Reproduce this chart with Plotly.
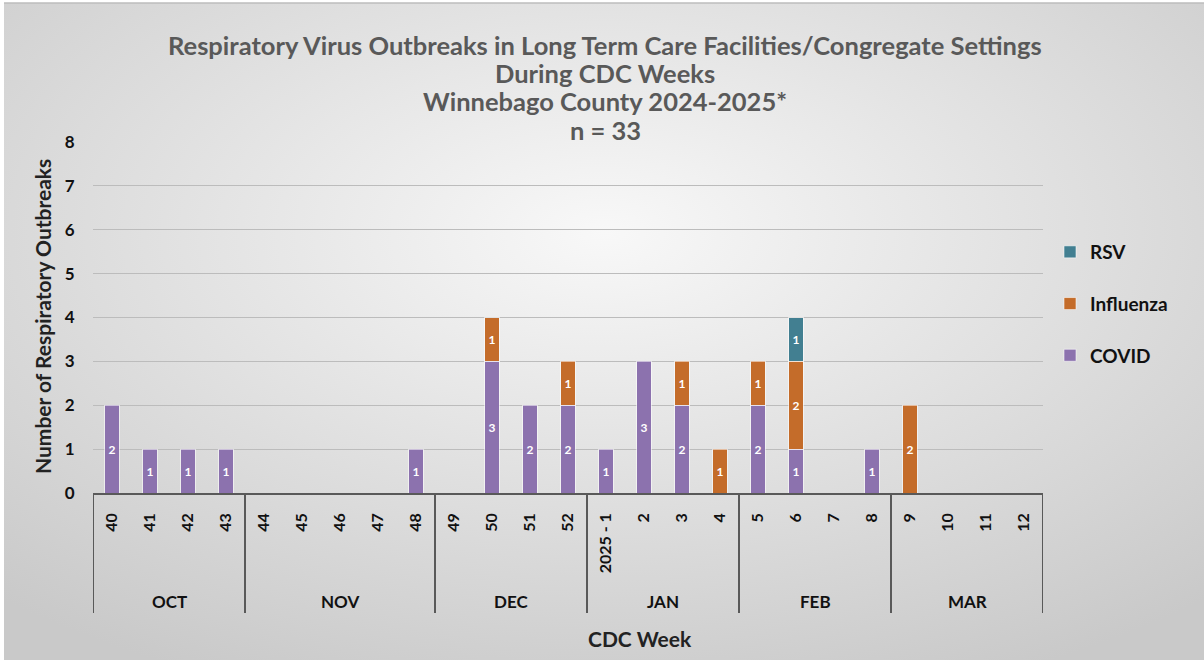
import base64
import plotly.graph_objects as go

# ---- data ----
weeks = ["40", "41", "42", "43", "44", "45", "46", "47", "48", "49", "50", "51", "52",
         "2025 - 1", "2", "3", "4", "5", "6", "7", "8", "9", "10", "11", "12"]
months = ["OCT", "NOV", "DEC", "JAN", "FEB", "MAR"]
weeks_per_month = [4, 5, 4, 4, 4, 4]
covid = [2, 1, 1, 1, 0, 0, 0, 0, 1, 0, 3, 2, 2, 1, 3, 2, 0, 2, 1, 0, 1, 0, 0, 0, 0]
influenza = [0, 0, 0, 0, 0, 0, 0, 0, 0, 0, 1, 0, 1, 0, 0, 1, 1, 1, 2, 0, 0, 2, 0, 0, 0]
rsv = [0, 0, 0, 0, 0, 0, 0, 0, 0, 0, 0, 0, 0, 0, 0, 0, 0, 0, 1, 0, 0, 0, 0, 0, 0]

series = [("COVID", covid, "#8C72AE", 3), ("Influenza", influenza, "#C46C2A", 2),
          ("RSV", rsv, "#427F91", 1)]

FONT = "Lato"
W, H = 1204, 660
L, R, T, B = 93, 161, 142, 167
PW, PH = W - L - R, H - T - B

xs = list(range(len(weeks)))
fig = go.Figure()
for name, vals, color, rank in series:
    y = [v if v else None for v in vals]
    fig.add_trace(go.Bar(
        x=xs, y=y, name=name, legendgroup=name, legendrank=rank,
        marker=dict(color=color, line=dict(color="rgba(255,255,255,0.55)", width=1)),
        width=0.38,
        text=[str(v) if v else "" for v in vals],
        textposition="inside", insidetextanchor="middle", textangle=0,
        insidetextfont=dict(family=FONT, size=12, color="white", weight="bold"),
        constraintext="none",
        hoverinfo="skip",
    ))

# background gradient (decorative)
svg = ('<svg xmlns="http://www.w3.org/2000/svg" width="1204" height="660">'
       '<defs><radialGradient id="g" cx="50%" cy="35%" r="75%">'
       '<stop offset="0%" stop-color="#f8f8f8"/><stop offset="100%" stop-color="#c9c9c9"/>'
       '</radialGradient></defs><rect x="0" y="0" width="1204" height="660" fill="url(#g)"/></svg>')
src = "data:image/svg+xml;base64," + base64.b64encode(svg.encode()).decode()
fig.add_layout_image(dict(source=src, xref="paper", yref="paper",
                          x=(4 - L) / PW, y=1 + (T - 3) / PH,
                          sizex=(W - 4) / PW, sizey=(H - 3) / PH,
                          xanchor="left", yanchor="top", sizing="stretch", layer="below"))

shapes = []
ann = []
# month separators and labels
bounds = [-0.5]
for n in weeks_per_month:
    bounds.append(bounds[-1] + n)
for b in bounds:
    shapes.append(dict(type="line", xref="x", yref="paper", x0=b, x1=b,
                       y0=0, y1=-(613 - 493) / PH, line=dict(color="#595959", width=2)))
for i, m in enumerate(months):
    ann.append(dict(text=m, xref="x", yref="paper", x=(bounds[i] + bounds[i + 1]) / 2,
                    y=-(601 - 493) / PH, showarrow=False, yanchor="middle",
                    font=dict(family=FONT, size=17, color="#111111", weight="bold")))
# top border line
shapes.append(dict(type="line", xref="paper", yref="paper", x0=(4 - L) / PW, x1=(W - L) / PW,
                   y0=1 + (T - 3) / PH, y1=1 + (T - 3) / PH, line=dict(color="#bdbdbd", width=1.5)))

titles = ["Respiratory Virus Outbreaks in Long Term Care Facilities/Congregate Settings",
          "During CDC Weeks", "Winnebago County 2024-2025*", "n = 33"]
ty = [45, 73, 101, 130]
for t, yy in zip(titles, ty):
    ann.append(dict(text=t, xref="paper", yref="paper", x=(605 - L) / PW, y=(493 - yy) / PH,
                    showarrow=False, xanchor="center", yanchor="middle",
                    font=dict(family=FONT, size=25.5, color="#595959", weight="bold")))
ann.append(dict(text="Number of Respiratory Outbreaks", xref="paper", yref="paper",
                x=(42 - L) / PW, y=(493 - 317) / PH, textangle=-90, showarrow=False,
                xanchor="center", yanchor="middle",
                font=dict(family=FONT, size=21, color="#222222", weight="bold")))
ann.append(dict(text="CDC Week", xref="paper", yref="paper", x=(640 - L) / PW, y=-(638 - 493) / PH,
                showarrow=False, xanchor="center", yanchor="middle",
                font=dict(family=FONT, size=21, color="#222222", weight="bold")))

fig.update_layout(
    width=W, height=H,
    margin=dict(l=L, r=R, t=T, b=B, autoexpand=False),
    paper_bgcolor="white", plot_bgcolor="rgba(0,0,0,0)",
    barmode="stack", bargap=0.62,
    showlegend=True,
    legend=dict(x=(1050 - L) / PW, y=(493 - 233) / PH, xanchor="left", yanchor="top",
                traceorder="grouped", tracegroupgap=24, itemwidth=30,
                bgcolor="rgba(0,0,0,0)",
                font=dict(family=FONT, size=19, color="#111111", weight="bold")),
    shapes=shapes, annotations=ann,
    xaxis=dict(range=[-0.5, len(weeks) - 0.5], tickmode="array", tickvals=xs, ticktext=weeks,
               tickangle=-90, ticks="outside", ticklen=12, tickcolor="rgba(0,0,0,0)",
               showgrid=False, zeroline=False, showline=True, linecolor="#595959", linewidth=1.5,
               tickfont=dict(family=FONT, size=16, color="#111111", weight="bold")),
    yaxis=dict(range=[0, 8], dtick=1, showgrid=True, gridcolor="#bcbcbc", gridwidth=1,
               zeroline=False, showline=False, ticks="outside", ticklen=14,
               tickcolor="rgba(0,0,0,0)",
               tickfont=dict(family=FONT, size=17, color="#111111", weight="bold")),
)

fig.write_html("out.html", config={"displayModeBar": False},
               post_script="document.body.style.margin='0';")
